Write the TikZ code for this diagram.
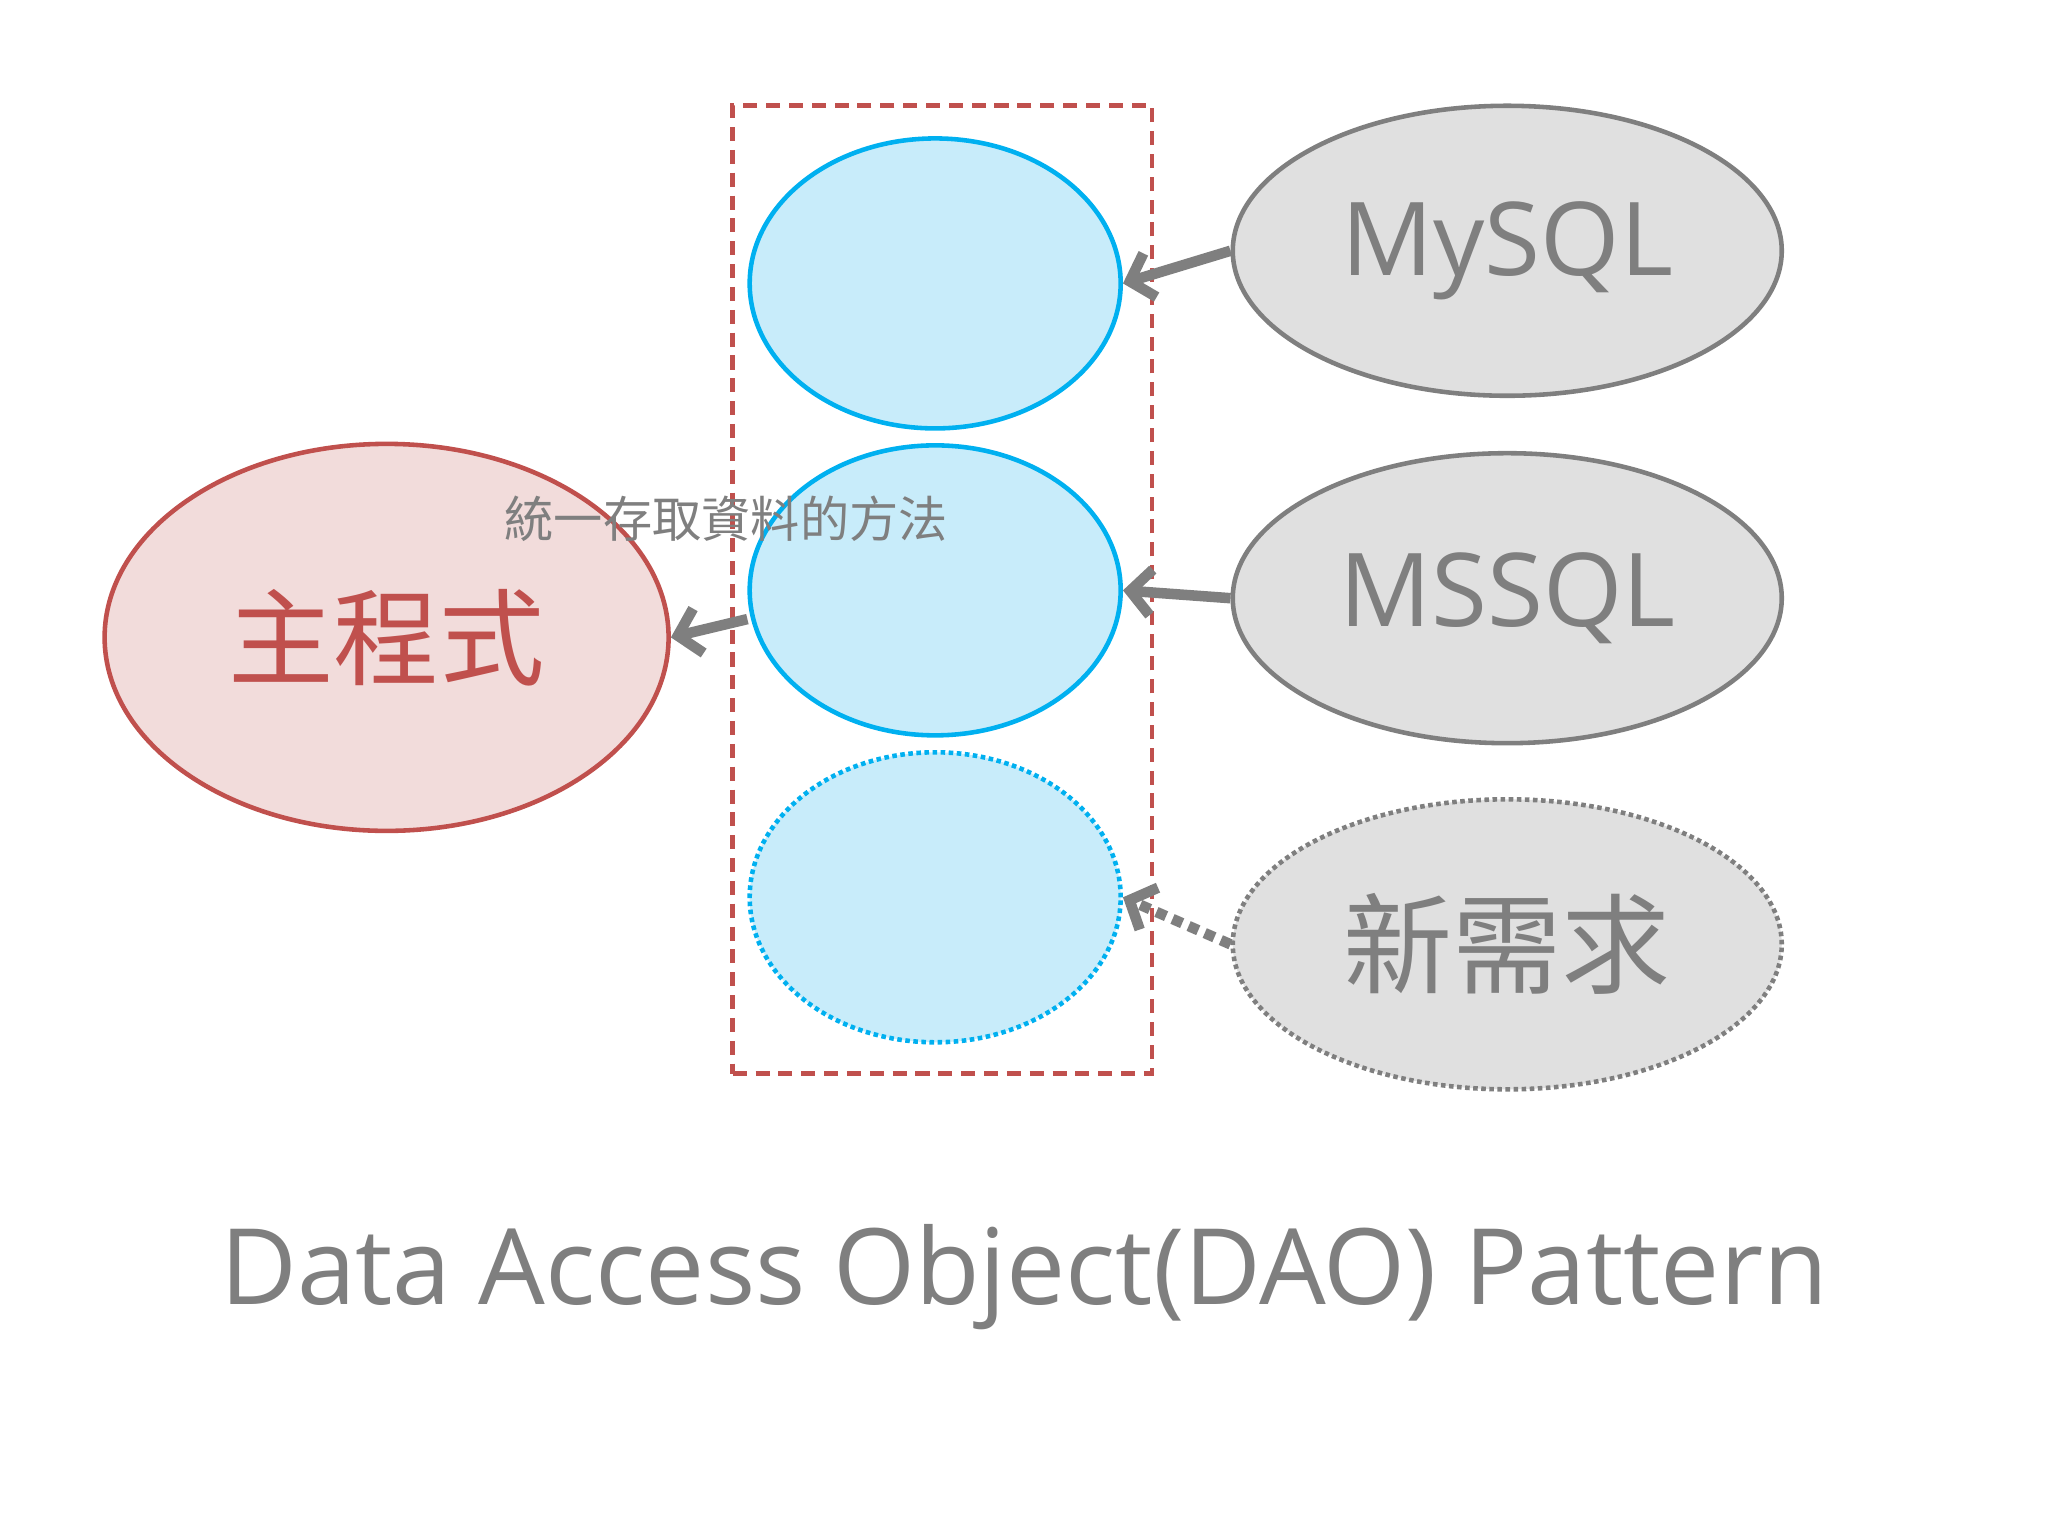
\documentclass[tikz,border=0pt]{standalone}
\usepackage{fontspec}
\setmainfont{Open Sans}
\newfontfamily\cjk{Noto Sans CJK TC}
\usetikzlibrary{shapes.geometric,arrows.meta}
\definecolor{bfill}{HTML}{C8ECFA}
\definecolor{bline}{HTML}{00B0F0}
\definecolor{gfill}{HTML}{E0E0E0}
\definecolor{gline}{HTML}{7F7F7F}
\definecolor{rfill}{HTML}{F2DCDB}
\definecolor{rline}{HTML}{C0504D}
\begin{document}
\begin{tikzpicture}[x=0.01306cm,y=-0.01306cm,
 dao/.style={ellipse,draw=bline,fill=bfill,line width=1.3pt,minimum width=3.71cm,minimum height=2.9cm,inner sep=0pt},
 db/.style={ellipse,draw=gline,fill=gfill,line width=1.3pt,minimum width=5.49cm,minimum height=2.9cm,inner sep=0pt,text=gline,font=\fontsize{29}{34}\selectfont},
 arr/.style={draw=gline,line width=3pt,-{Straight Barb[length=6pt,width=13pt]}}]
\useasboundingbox (0,0) rectangle (1568,1176);
\node[draw=rline,dash pattern=on 4pt off 2.5pt,line width=1.4pt,minimum width=321*0.01306cm,minimum height=741*0.01306cm,inner sep=0pt] (box) at (721.5,451.5) {};
\node[dao] (d1) at (716,217) {};
\node[dao] (d2) at (716,452) {};
\node[dao,densely dotted] (d3) at (716,687) {};
\node[db] (my) at (1154,192) {MySQL};
\node[db] (ms) at (1154,458) {MSSQL};
\node[db,densely dotted,font=\cjk\fontsize{31}{36}\selectfont] (nw) at (1154,723) {新需求};
\node[ellipse,draw=rline,fill=rfill,line width=1.3pt,minimum width=5.64cm,minimum height=3.87cm,text=rline,font=\cjk\fontsize{30}{36}\selectfont] (main) at (296,488) {主程式};
\node[text=gline,font=\cjk\fontsize{14}{16}\selectfont] (lbl) at (556,397) {統一存取資料的方法};
\draw[arr] (my.west) -- (d1.east);
\draw[arr] (ms.west) -- (d2.east);
\draw[arr,dotted] (nw.west) -- (d3.east);
\draw[arr] (d2.west) ++(0,22) coordinate (s) -- (main.east);
\node[text=gline,font=\fontsize{30}{36}\selectfont] (title) at (784,978) {Data Access Object(DAO) Pattern};
\end{tikzpicture}
\end{document}
